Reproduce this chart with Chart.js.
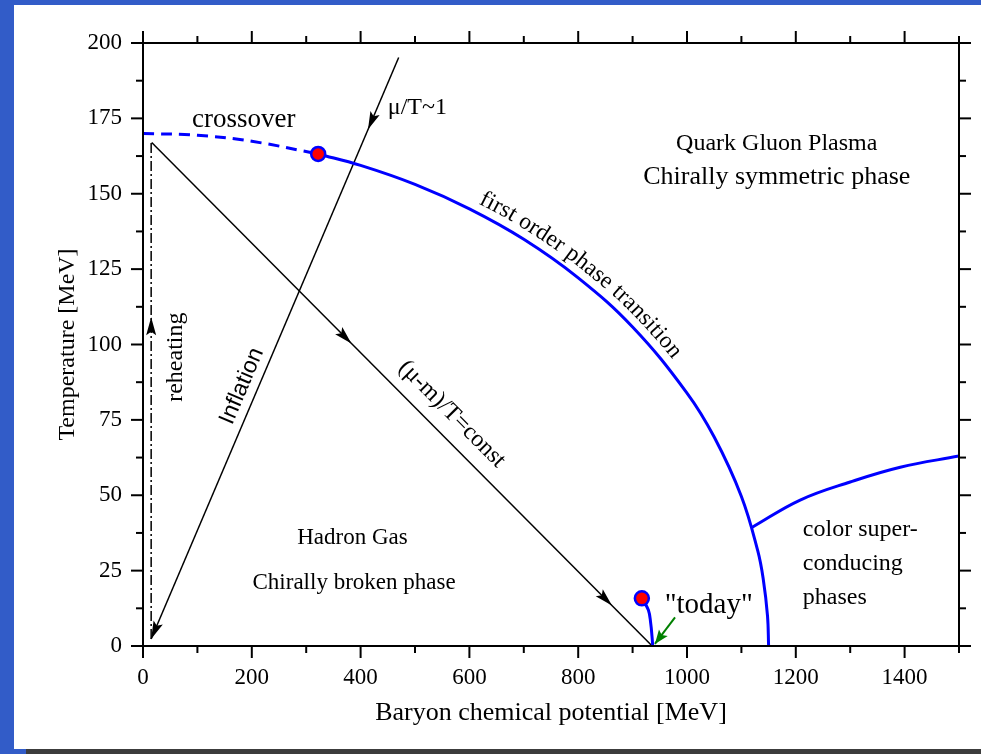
<!DOCTYPE html>
<html><head><meta charset="utf-8">
<script src="https://cdn.jsdelivr.net/npm/chart.js@4.4.1/dist/chart.umd.min.js"></script>
<style>html,body{margin:0;padding:0;background:#325cc8;overflow:hidden}canvas{display:block}</style>
</head><body><canvas id="c" width="981" height="754"></canvas>
<script>
// ---------- data ----------
const xMajorTicks = [0, 200, 400, 600, 800, 1000, 1200, 1400];
const xMinorTicks = [100, 300, 500, 700, 900, 1100, 1300, 1500];
const yMajorTicks = [0, 25, 50, 75, 100, 125, 150, 175, 200];
const yMinorTicks = [12.5, 37.5, 62.5, 87.5, 112.5, 137.5, 162.5, 187.5];

const crossoverMu = [0, 100, 200, 322];
const crossoverT  = [170, 169.4, 167.4, 163.2];
const firstOrderMu = [322, 400, 500, 600, 700, 800, 900, 1000, 1050, 1100, 1130, 1140, 1148, 1150];
const firstOrderT  = [163.2, 159.4, 153.1, 145.0, 134.9, 122.1, 105.8, 83.9, 69.3, 49.6, 31.6, 22.4, 10.0, 0];
const cscMu = [1120, 1208, 1300, 1392, 1500];
const cscT  = [39.4, 48.4, 54.4, 59.3, 63];
const nuclearMu = [917, 929, 933.3, 935.7, 937];
const nuclearT  = [15.8, 11.9, 7.5, 3.1, 0];
const criticalMu = [322, 917];
const criticalT  = [163.2, 15.8];

const isentropeMu = [16, 936];
const isentropeT  = [167, 0];
const inflationMu = [470, 15];
const inflationT  = [195.2, 2.3];
const reheatMu = [15, 15];
const reheatT  = [2.3, 167];
const todayArrowMu = [978, 941];
const todayArrowT  = [9.5, 0.7];

// arrow heads: [line name, fraction along the line where the tip sits]
const arrowTips = [['isentrope', 0.399], ['isentrope', 0.9196], ['inflation', 0.124], ['inflation', 1.0], ['reheat', 0.648], ['todayArrow', 1.0]];

const SERIF = "'Liberation Serif', 'Times New Roman', serif";
const SANS = "'Liberation Sans', Arial, sans-serif";

const pts = (xs, ys) => xs.map((x, i) => ({x, y: ys[i]}));
const lines = {
  isentrope: pts(isentropeMu, isentropeT),
  inflation: pts(inflationMu, inflationT),
  reheat: pts(reheatMu, reheatT),
  todayArrow: pts(todayArrowMu, todayArrowT)
};

// text annotations (position in data units)
const labels = [
  {t: 'crossover', mu: 90, T: 174.6, size: 27, align: 'left'},
  {t: 'μ/T~1', mu: 450, T: 178.6, size: 24, align: 'left'},
  {t: 'Quark Gluon Plasma', mu: 1165, T: 166.7, size: 24},
  {t: 'Chirally symmetric phase', mu: 1165, T: 155.5, size: 26},
  {t: 'Hadron Gas', mu: 385, T: 35.8, size: 23},
  {t: 'Chirally broken phase', mu: 388, T: 20.9, size: 23},
  {t: '"today"', mu: 1040, T: 13.6, size: 29},
  {t: 'color super-', mu: 1213, T: 38.5, size: 24, align: 'left'},
  {t: 'conducing', mu: 1213, T: 27.2, size: 24, align: 'left'},
  {t: 'phases', mu: 1213, T: 15.9, size: 24, align: 'left'},
  {t: 'reheating', mu: 60.7, T: 95.8, size: 24, angle: -90},
  {t: 'Inflation', mu: 182, T: 86.2, size: 23, family: SANS, along: 'inflation', reverse: true},
  {t: '(μ-m)/T=const', mu: 568, T: 76.9, size: 24, along: 'isentrope'}
];
const curvedLabel = {t: 'first order phase transition', size: 23.5, centerMu: 800, offset: 15};

const BLUE = '#0000ff';

const overlay = {
  id: 'overlay',
  beforeDraw(chart) {
    const ctx = chart.ctx;
    ctx.save();
    ctx.fillStyle = '#325cc8'; ctx.fillRect(0, 0, 981, 754);
    ctx.fillStyle = '#ffffff'; ctx.fillRect(14, 5, 967, 744);
    ctx.fillStyle = '#3c3c3c'; ctx.fillRect(26, 749, 955, 5);
    ctx.restore();
  },
  afterDraw(chart) {
    const ctx = chart.ctx, xs = chart.scales.x, ys = chart.scales.y, a = chart.chartArea;
    const P = (mu, T) => ({x: xs.getPixelForValue(mu), y: ys.getPixelForValue(T)});
    ctx.save();
    // frame
    ctx.strokeStyle = '#000'; ctx.lineWidth = 2; ctx.lineCap = 'butt';
    ctx.strokeRect(a.left, a.top, a.right - a.left, a.bottom - a.top);
    const seg = (x1, y1, x2, y2) => { ctx.beginPath(); ctx.moveTo(x1, y1); ctx.lineTo(x2, y2); ctx.stroke(); };
    const tickX = (vals, len) => vals.forEach(v => { const px = xs.getPixelForValue(v); seg(px, a.bottom, px, a.bottom + len); seg(px, a.top, px, a.top - len); });
    const tickY = (vals, len) => vals.forEach(v => { const py = ys.getPixelForValue(v); seg(a.left, py, a.left - len, py); seg(a.right, py, a.right + len, py); });
    tickX(xMajorTicks, 12); tickX(xMinorTicks, 7);
    tickY(yMajorTicks, 12); tickY(yMinorTicks, 7);

    // arrow heads
    arrowTips.forEach(([name, f]) => {
      const L = lines[name];
      const p0 = P(L[0].x, L[0].y), p1 = P(L[1].x, L[1].y);
      const tip = {x: p0.x + (p1.x - p0.x) * f, y: p0.y + (p1.y - p0.y) * f};
      const ang = Math.atan2(p1.y - p0.y, p1.x - p0.x);
      const green = name === 'todayArrow';
      const len = green ? 14 : 18, hw = green ? 5.5 : 5;
      ctx.fillStyle = green ? '#008000' : '#000';
      ctx.save(); ctx.translate(tip.x, tip.y); ctx.rotate(ang);
      ctx.beginPath(); ctx.moveTo(0, 0); ctx.lineTo(-len, hw); ctx.lineTo(-len * 0.8, 0); ctx.lineTo(-len, -hw); ctx.closePath(); ctx.fill();
      ctx.restore();
    });

    // labels
    ctx.fillStyle = '#000'; ctx.textBaseline = 'middle';
    labels.forEach(l => {
      const p = P(l.mu, l.T);
      ctx.font = l.size + 'px ' + (l.family || SERIF);
      ctx.textAlign = l.align || 'center';
      let ang = 0;
      if (l.angle !== undefined) ang = l.angle * Math.PI / 180;
      if (l.along) {
        const L = lines[l.along];
        const p0 = P(L[0].x, L[0].y), p1 = P(L[1].x, L[1].y);
        ang = l.reverse ? Math.atan2(p0.y - p1.y, p0.x - p1.x) : Math.atan2(p1.y - p0.y, p1.x - p0.x);
      }
      ctx.save(); ctx.translate(p.x, p.y); ctx.rotate(ang); ctx.fillText(l.t, 0, 0); ctx.restore();
    });

    // curved label along the first-order line (follows the drawn spline)
    const meta = chart.getDatasetMeta(2);
    const el = meta.data;
    const poly = [];
    for (let i = 0; i < el.length - 1; i++) {
      const A = el[i], B = el[i + 1];
      const c1x = A.cp2x ?? A.x, c1y = A.cp2y ?? A.y, c2x = B.cp1x ?? B.x, c2y = B.cp1y ?? B.y;
      for (let k = 0; k < 20; k++) {
        const t = k / 20, u = 1 - t;
        poly.push({x: u*u*u*A.x + 3*u*u*t*c1x + 3*u*t*t*c2x + t*t*t*B.x,
                   y: u*u*u*A.y + 3*u*u*t*c1y + 3*u*t*t*c2y + t*t*t*B.y});
      }
    }
    poly.push({x: el[el.length - 1].x, y: el[el.length - 1].y});
    const cum = [0];
    for (let i = 1; i < poly.length; i++) cum.push(cum[i - 1] + Math.hypot(poly[i].x - poly[i - 1].x, poly[i].y - poly[i - 1].y));
    const cIdx = firstOrderMu.indexOf(curvedLabel.centerMu) * 20;
    const sCenter = cum[cIdx];
    const at = s => {
      let i = 1; while (i < cum.length - 1 && cum[i] < s) i++;
      const f = (s - cum[i - 1]) / ((cum[i] - cum[i - 1]) || 1);
      const x = poly[i - 1].x + (poly[i].x - poly[i - 1].x) * f;
      const y = poly[i - 1].y + (poly[i].y - poly[i - 1].y) * f;
      const j0 = Math.max(0, i - 3), j1 = Math.min(poly.length - 1, i + 2);
      const ang = Math.atan2(poly[j1].y - poly[j0].y, poly[j1].x - poly[j0].x);
      return {x, y, ang};
    };
    ctx.font = curvedLabel.size + 'px ' + SERIF; ctx.textAlign = 'center'; ctx.textBaseline = 'middle';
    const total = ctx.measureText(curvedLabel.t).width;
    let s = sCenter - total / 2;
    for (const ch of curvedLabel.t) {
      const w = ctx.measureText(ch).width;
      const q = at(s + w / 2);
      const nx = Math.sin(q.ang), ny = -Math.cos(q.ang);
      ctx.save(); ctx.translate(q.x + nx * curvedLabel.offset, q.y + ny * curvedLabel.offset); ctx.rotate(q.ang);
      ctx.fillText(ch, 0, 0); ctx.restore();
      s += w;
    }
    ctx.restore();
  }
};

const lineDs = (data, extra) => Object.assign({data, showLine: true, pointRadius: 0, borderWidth: 1.5, borderColor: '#000', fill: false, tension: 0}, extra);

new Chart(document.getElementById('c'), {
  type: 'scatter',
  data: {
    datasets: [
      {data: pts(criticalMu, criticalT), showLine: false, pointRadius: 7, pointBackgroundColor: '#ff0000', pointBorderColor: BLUE, pointBorderWidth: 2.5},
      lineDs(pts(crossoverMu, crossoverT), {borderColor: BLUE, borderWidth: 3, borderDash: [11, 7], tension: 0.4}),
      lineDs(pts(firstOrderMu, firstOrderT), {borderColor: BLUE, borderWidth: 3, tension: 0.4}),
      lineDs(pts(cscMu, cscT), {borderColor: BLUE, borderWidth: 3, tension: 0.4}),
      lineDs(pts(nuclearMu, nuclearT), {borderColor: BLUE, borderWidth: 3, tension: 0.4}),
      lineDs(lines.isentrope),
      lineDs(lines.inflation),
      lineDs(lines.reheat, {borderDash: [10, 3, 2, 3]}),
      lineDs(lines.todayArrow, {borderColor: '#008000', borderWidth: 2})
    ]
  },
  options: {
    responsive: false, animation: false,
    layout: {padding: {left: 14, top: 43, right: 22, bottom: 5}},
    plugins: {legend: {display: false}, tooltip: {enabled: false}},
    scales: {
      x: {
        type: 'linear', min: 0, max: 1500, position: 'bottom',
        afterBuildTicks: s => { s.ticks = xMajorTicks.map(v => ({value: v})); },
        ticks: {color: '#000', font: {family: SERIF, size: 23}, padding: 18.5, maxRotation: 0, autoSkip: false, callback: v => String(v)},
        grid: {display: false, drawTicks: false}, border: {display: false},
        title: {display: true, text: 'Baryon chemical potential [MeV]', color: '#000', font: {family: SERIF, size: 26}, padding: {top: 0, bottom: 20.4}},
        afterFit: s => { s.height = 103; }
      },
      y: {
        type: 'linear', min: 0, max: 200, position: 'left',
        afterBuildTicks: s => { s.ticks = yMajorTicks.map(v => ({value: v})); },
        ticks: {color: '#000', font: {family: SERIF, size: 23}, padding: 21, callback: v => String(v)},
        grid: {display: false, drawTicks: false}, border: {display: false},
        title: {display: true, text: 'Temperature [MeV]', color: '#000', font: {family: SERIF, size: 24}, padding: {top: 39.6, bottom: 0}},
        afterFit: s => { s.width = 129; }
      }
    }
  },
  plugins: [overlay]
});
</script>
</body></html>
